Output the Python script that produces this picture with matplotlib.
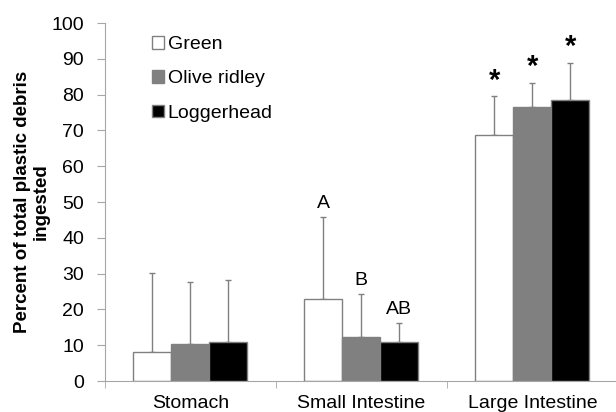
import numpy as np
import matplotlib
matplotlib.use("Agg")
import matplotlib.pyplot as plt

plt.rcParams["font.family"] = ["Liberation Sans", "DejaVu Sans"]

# data
categories = ["Stomach", "Small Intestine", "Large Intestine"]
species = ["Green", "Olive ridley", "Loggerhead"]
green = [8.0, 22.9, 68.7]
olive = [10.5, 12.2, 76.5]
logger = [10.8, 10.8, 78.6]
green_err = [22.3, 22.8, 10.8]
olive_err = [17.1, 12.1, 6.9]
logger_err = [17.3, 5.4, 10.2]
marks = [["", "", ""], ["A", "B", "AB"], ["*", "*", "*"]]

colors = ["white", "#808080", "black"]
edge = "#808080"
grey = "#a6a6a6"

fig = plt.figure(figsize=(6.16, 4.12), dpi=100)
ax = fig.add_axes([0.170, 0.075, 0.833, 0.869])

x = np.arange(len(categories)) + 0.5
w = 0.222
series = [green, olive, logger]
errs = [green_err, olive_err, logger_err]

for i, (vals, err, c, name) in enumerate(zip(series, errs, colors, species)):
    pos = x + (i - 1) * w
    ax.bar(pos, vals, width=w, color=c, edgecolor=edge, linewidth=1.0,
           label=name, zorder=2)
    ax.errorbar(pos, vals, yerr=[np.zeros(len(err)), err], fmt="none",
                ecolor=edge, elinewidth=1.0, capsize=2.5, capthick=1.0, zorder=1)
    for j in range(len(categories)):
        m = marks[j][i]
        if not m:
            continue
        top = vals[j] + err[j]
        if m == "*":
            ax.text(pos[j], top + 0.5, m, ha="center", va="bottom",
                    fontsize=21, fontweight="bold")
        else:
            ax.text(pos[j], top + 1.5, m, ha="center", va="bottom", fontsize=14)

ax.set_xlim(0, 3)
ax.set_ylim(0, 100)
ax.set_yticks(np.arange(0, 101, 10))
ax.set_xticks(x)
ax.set_xticklabels(categories, fontsize=14)
ax.set_xticks([0, 1, 2, 3], minor=True)
ax.tick_params(axis="x", which="major", length=0, pad=10)
ax.tick_params(axis="x", which="minor", length=5, color=grey, direction="out")
ax.tick_params(axis="y", labelsize=14, length=6, color=grey, pad=9)

for s in ["top", "right"]:
    ax.spines[s].set_visible(False)
for s in ["left", "bottom"]:
    ax.spines[s].set_color(grey)

ax.set_ylabel("Percent of total plastic debris\ningested", fontsize=13.5,
              fontweight="bold", linespacing=1.12, labelpad=1)

ax.legend(loc="upper left", bbox_to_anchor=(0.058, 1.012), frameon=False,
          fontsize=14, handlelength=0.6, handleheight=0.6, handletextpad=0.2,
          labelspacing=0.88)

fig.savefig("out.png", dpi=100)
